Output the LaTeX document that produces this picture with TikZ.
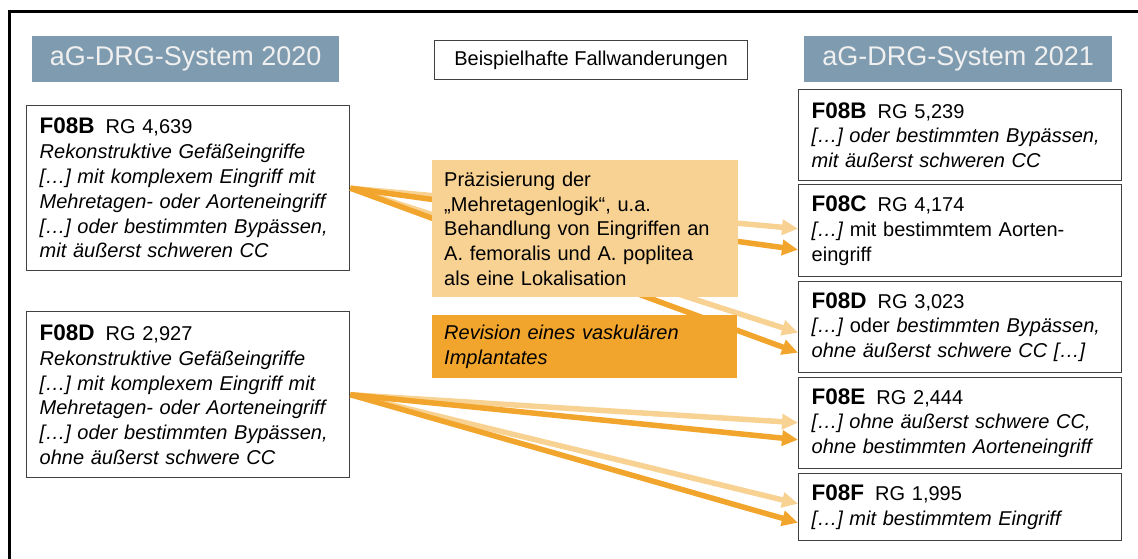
\documentclass[tikz,border=0pt]{standalone}
\usepackage{fontspec}
\setmainfont{Liberation Sans}
\usetikzlibrary{arrows.meta}

\definecolor{hdr}{HTML}{7F9BAF}
\definecolor{orD}{HTML}{F2A52C}
\definecolor{orL}{HTML}{F8D293}
\definecolor{frm}{HTML}{404040}

% DRG code in bold, followed by its relative weight
\newcommand\drgcode[2]{{\fontsize{22.5}{25}\selectfont\bfseries #1}\hspace{0.55em}#2}

\begin{document}
\begin{tikzpicture}[x=1pt,y=-1pt,
  every node/.style={font=\fontsize{20}{24.8}\selectfont, inner ysep=0pt},
  header/.style={fill=hdr, text=white!94!black, font=\fontsize{27}{30}\selectfont,
    anchor=north west, minimum width=307pt, minimum height=46pt, inner sep=0pt},
  drgbox/.style={draw=frm, line width=1.4pt, fill=white, anchor=north west,
    text width=297pt, inner xsep=13pt, minimum width=323pt, align=left},
  notebox/.style={anchor=north west, inner xsep=12pt, align=left},
  flow/.style={line width=5.5pt, -{Triangle[length=16pt,width=15pt]}},
  lightflow/.style={flow, draw=orL},
  darkflow/.style={flow, draw=orD}
]
\useasboundingbox (0,0) rectangle (1138,559);

% outer frame
\draw[line width=3pt] (9,565) -- (9,12) -- (1145,12);

% column headers
\node[header] (h20) at (32,36) {aG-DRG-System 2020};
\node[header, minimum width=308pt] (h21) at (804,36) {aG-DRG-System 2021};
\node[draw=frm, line width=1.2pt, anchor=north west, minimum width=313pt,
  minimum height=39pt, inner sep=0pt] (bsp) at (434,40) {Beispielhafte Fallwanderungen};

% 2020 groups
\node[drgbox, minimum height=165pt] (oldB) at (26,105) {%
  \drgcode{F08B}{RG 4,639}\\
  \textit{Rekonstruktive Gefäßeingriffe}\\
  \textit{[…] mit komplexem Eingriff mit}\\
  \textit{Mehretagen- oder Aorteneingriff}\\
  \textit{[…] oder bestimmten Bypässen,}\\
  \textit{mit äußerst schweren CC}};
\node[drgbox, minimum height=166pt] (oldD) at (26,311) {%
  \drgcode{F08D}{RG 2,927}\\
  \textit{Rekonstruktive Gefäßeingriffe}\\
  \textit{[…] mit komplexem Eingriff mit}\\
  \textit{Mehretagen- oder Aorteneingriff}\\
  \textit{[…] oder bestimmten Bypässen,}\\
  \textit{ohne äußerst schwere CC}};

% 2021 groups
\node[drgbox, minimum height=91pt] (newB) at (798,89) {%
  \drgcode{F08B}{RG 5,239}\\
  \textit{[…] oder bestimmten Bypässen,}\\
  \textit{mit äußerst schweren CC}};
\node[drgbox, minimum height=92pt] (newC) at (798,184) {%
  \drgcode{F08C}{RG 4,174}\\
  \textit{[…]} mit bestimmtem Aorten-\\
  eingriff};
\node[drgbox, minimum height=91pt] (newD) at (798,281) {%
  \drgcode{F08D}{RG 3,023}\\
  \textit{[…]} oder \textit{bestimmten Bypässen,}\\
  \textit{ohne äußerst schwere CC […]}};
\node[drgbox, minimum height=91pt] (newE) at (798,377) {%
  \drgcode{F08E}{RG 2,444}\\
  \textit{[…] ohne äußerst schwere CC,}\\
  \textit{ohne bestimmten Aorteneingriff}};
\node[drgbox, minimum height=67pt] (newF) at (798,473) {%
  \drgcode{F08F}{RG 1,995}\\
  \textit{[…] mit bestimmtem Eingriff}};

% case migrations
\draw[lightflow] (oldB.east) -- ([yshift=2pt]newC.west);
\draw[lightflow] (oldB.east) -- ([yshift=-5.5pt]newD.west);
\draw[darkflow] (oldB.east) -- ([yshift=-19pt]newC.west);
\draw[darkflow] (oldB.east) -- ([yshift=-25.5pt]newD.west);
\draw[lightflow] (oldD.east) -- ([yshift=0.5pt]newE.west);
\draw[lightflow] (oldD.east) -- ([yshift=3.5pt]newF.west);
\draw[darkflow] (oldD.east) -- ([yshift=-16.5pt]newE.west);
\draw[darkflow] (oldD.east) -- ([yshift=-15.5pt]newF.west);

% explanations
\node[notebox, fill=orL, minimum width=306pt, minimum height=137pt, text width=282pt]
  (prae) at (432,160) {Präzisierung der\\„Mehretagenlogik“, u.a.\\Behandlung von Eingriffen an\\A. femoralis und A. poplitea\\als eine Lokalisation};
\node[notebox, fill=orD, minimum width=305pt, minimum height=63pt, text width=281pt,
  font=\fontsize{20}{24.8}\selectfont\itshape]
  (rev) at (432,315) {Revision eines vaskulären\\Implantates};
\end{tikzpicture}
\end{document}
